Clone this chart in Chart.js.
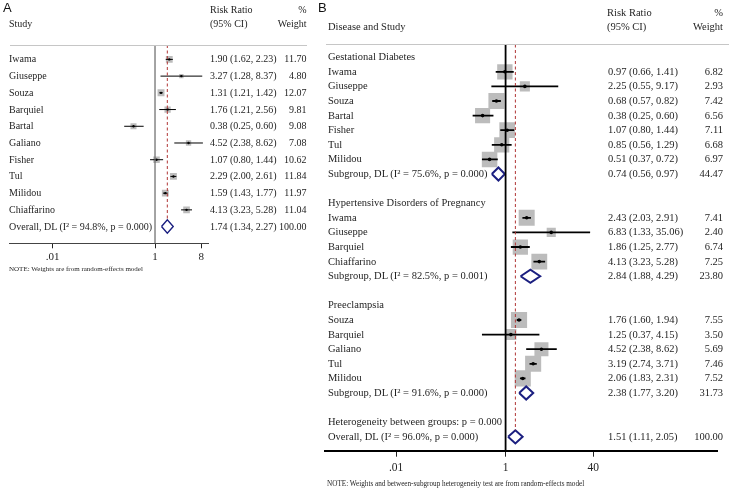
<!DOCTYPE html>
<html><head><meta charset="utf-8">
<script src="https://cdn.jsdelivr.net/npm/chart.js@4/dist/chart.umd.min.js"></script>
<style>
html,body{margin:0;padding:0;background:#fff;}
#wrap{position:relative;width:729px;height:490px;overflow:hidden;}
canvas{position:absolute;top:0;}
.t{position:absolute;white-space:nowrap;font-family:'Liberation Serif','Times New Roman','DejaVu Serif',serif;color:#1e1e1e;line-height:1;transform:translateY(-50%);}
.t.r{transform:translate(-100%,-50%);}
.hl{position:absolute;height:1px;background:#c6c6c6;}
.pl{position:absolute;font-family:'Liberation Sans',Arial,sans-serif;font-size:13px;line-height:1;color:#111;transform:translateY(-50%);}
</style></head><body><div id="wrap">
<canvas id="ca" width="310" height="490" style="left:0px"></canvas>
<canvas id="cb" width="419" height="490" style="left:310px"></canvas>
</div>
<script>
// ---------- Panel A data ----------
const aStudies = ['Iwama','Giuseppe','Souza','Barquiel','Bartal','Galiano','Fisher','Tul','Milidou','Chiaffarino'];
const aRR     = [1.90, 3.27, 1.31, 1.76, 0.38, 4.52, 1.07, 2.29, 1.59, 4.13];
const aLo     = [1.62, 1.28, 1.21, 1.21, 0.25, 2.38, 0.80, 2.00, 1.43, 3.23];
const aHi     = [2.23, 8.37, 1.42, 2.56, 0.60, 8.62, 1.44, 2.61, 1.77, 5.28];
const aWeight = [11.70, 4.80, 12.07, 9.81, 9.08, 7.08, 10.62, 11.84, 11.97, 11.04];
const aOverallLabel = 'Overall, DL (I² = 94.8%, p = 0.000)';
const aOverall = [1.74, 1.34, 2.27, 100.00]; // estimate, lower, upper, weight
const aTicks = [0.01, 1, 8];
const aTickLabels = ['.01', '1', '8'];

// ---------- Panel B data ----------
const bLabels = ['Gestational Diabetes','Iwama','Giuseppe','Souza','Bartal','Fisher','Tul','Milidou',
  'Subgroup, DL (I² = 75.6%, p = 0.000)','',
  'Hypertensive Disorders of Pregnancy','Iwama','Giuseppe','Barquiel','Chiaffarino',
  'Subgroup, DL (I² = 82.5%, p = 0.001)','',
  'Preeclampsia','Souza','Barquiel','Galiano','Tul','Milidou',
  'Subgroup, DL (I² = 91.6%, p = 0.000)','',
  'Heterogeneity between groups: p = 0.000','Overall, DL (I² = 96.0%, p = 0.000)'];
const bKind = ['h','s','s','s','s','s','s','s','g','b','h','s','s','s','s','g','b','h','s','s','s','s','s','g','b','t','o'];
const bRR     = [null,0.97,2.25,0.68,0.38,1.07,0.85,0.51,0.74,null,null,2.43,6.83,1.86,4.13,2.84,null,null,1.76,1.25,4.52,3.19,2.06,2.38,null,null,1.51];
const bLo     = [null,0.66,0.55,0.57,0.25,0.80,0.56,0.37,0.56,null,null,2.03,1.33,1.25,3.23,1.88,null,null,1.60,0.37,2.38,2.74,1.83,1.77,null,null,1.11];
const bHi     = [null,1.41,9.17,0.82,0.60,1.44,1.29,0.72,0.97,null,null,2.91,35.06,2.77,5.28,4.29,null,null,1.94,4.15,8.62,3.71,2.31,3.20,null,null,2.05];
const bWeight = [null,6.82,2.93,7.42,6.56,7.11,6.68,6.97,44.47,null,null,7.41,2.40,6.74,7.25,23.80,null,null,7.55,3.50,5.69,7.46,7.52,31.73,null,null,100.00];
const bTicks = [0.01, 1, 40];
const bTickLabels = ['.01', '1', '40'];

// ---------- helpers ----------
const wrap = document.getElementById('wrap');
function addText(txt, x, y, size, right, cls) {
  const d = document.createElement('div');
  d.className = (cls || 't') + (right ? ' r' : '');
  d.textContent = txt;
  d.style.left = x + 'px';
  d.style.top = y + 'px';
  if (size) d.style.fontSize = size + 'px';
  wrap.appendChild(d);
  return d;
}
function addLine(x1, x2, y) {
  const d = document.createElement('div');
  d.className = 'hl';
  d.style.left = x1 + 'px'; d.style.width = (x2 - x1) + 'px'; d.style.top = y + 'px';
  wrap.appendChild(d);
}
const fmt = v => v.toFixed(2);

function buildPanel(p) {
  const n = p.labels.length;
  const ds = [];
  const sq = [], dots = [], radii = [];
  let overallRow = -1;
  for (let i = 0; i < n; i++) {
    const k = p.kind[i];
    if (k === 's') {
      sq.push({x: p.rr[i], y: i});
      radii.push(p.boxK * Math.sqrt(p.w[i]) / Math.SQRT2);
      dots.push({x: p.rr[i], y: i});
      ds.push({data: [{x: p.lo[i], y: i}, {x: p.hi[i], y: i}], showLine: true, pointRadius: 0,
        borderColor: '#000', borderWidth: p.ciW, order: 5});
    } else if (k === 'g' || k === 'o') {
      const h = p.diaH;
      ds.push({data: [{x: p.lo[i], y: i}, {x: p.rr[i], y: i - h}, {x: p.hi[i], y: i}, {x: p.rr[i], y: i + h}, {x: p.lo[i], y: i}],
        showLine: true, pointRadius: 0, borderColor: '#1b1f80', borderWidth: p.diaW, borderJoinStyle: 'miter', fill: false, order: 3});
      if (k === 'o') overallRow = i;
    }
  }
  ds.push({data: sq, pointStyle: 'rect', pointRadius: radii, backgroundColor: '#bcbcbc', borderWidth: 0, order: 10});
  ds.push({data: dots, pointStyle: 'circle', pointRadius: p.dotR, backgroundColor: '#000', borderWidth: 0, order: 4});
  ds.push({data: [{x: 1, y: p.yMin}, {x: 1, y: p.yMax}], showLine: true, pointRadius: 0,
    borderColor: p.nullColor, borderWidth: p.nullW, order: 2});
  ds.push({data: [{x: p.rr[overallRow], y: p.yMin}, {x: p.rr[overallRow], y: overallRow - p.diaH}], showLine: true, pointRadius: 0,
    borderColor: '#b03535', borderWidth: 1, borderDash: [3, 2.5], order: 1});

  const chart = new Chart(document.getElementById(p.canvas), {
    type: 'scatter',
    data: {datasets: ds},
    options: {
      responsive: false, animation: false, events: [],
      layout: {padding: {left: p.padL, right: p.padR, top: p.top, bottom: 0}},
      plugins: {legend: {display: false}, tooltip: {enabled: false}},
      scales: {
        x: {
          type: 'logarithmic', min: p.xMin, max: p.xMax, position: 'bottom',
          afterBuildTicks: s => { s.ticks = p.ticks.map(v => ({value: v})); },
          afterFit: s => { s.height = 490 - p.bottom; },
          ticks: {autoSkip: false, maxRotation: 0, padding: p.tickPad, color: '#222',
            font: {family: "'Liberation Serif','Times New Roman',serif", size: p.tickFont},
            callback: (v, i) => p.tickLabels[i]},
          grid: {drawOnChartArea: false, drawTicks: true, tickLength: p.tickLen, color: '#222', lineWidth: 1},
          border: {display: true, color: p.axisColor, width: p.axisW}
        },
        y: {type: 'linear', reverse: true, min: p.yMin, max: p.yMax, display: false}
      }
    }
  });

  const ys = chart.scales.y;
  for (let i = 0; i < n; i++) {
    const y = ys.getPixelForValue(i);
    if (p.labels[i]) addText(p.labels[i], p.nameX, y, p.font);
    if (p.rr[i] != null) {
      addText(fmt(p.rr[i]) + ' (' + fmt(p.lo[i]) + ', ' + fmt(p.hi[i]) + ')', p.ciX, y, p.font);
      addText(fmt(p.w[i]), p.wX, y, p.font, true);
    }
  }
  return chart;
}

// ---------- Panel A ----------
buildPanel({
  canvas: 'ca',
  labels: aStudies.concat([aOverallLabel]),
  kind: aStudies.map(() => 's').concat(['o']),
  rr: aRR.concat([aOverall[0]]), lo: aLo.concat([aOverall[1]]), hi: aHi.concat([aOverall[2]]), w: aWeight.concat([aOverall[3]]),
  ticks: aTicks, tickLabels: aTickLabels,
  xMin: Math.pow(10, -2.852), xMax: Math.pow(10, 1.035),
  padL: 9, padR: 102, top: 45, bottom: 243.3,
  yMin: -0.861, yMax: 11.0,
  boxK: 2.0, ciW: 1, dotR: 1.2, diaH: 0.4, diaW: 1.4,
  nullColor: '#666', nullW: 1.2, axisColor: '#444', axisW: 1,
  tickLen: 5, tickPad: 2, tickFont: 11,
  nameX: 9, ciX: 210, wX: 306.5, font: 10
});
addText('A', 3, 7, null, false, 'pl');
addText('Study', 9, 24, 10);
addText('Risk Ratio', 210, 9.5, 10);
addText('(95% CI)', 210, 24, 10);
addText('%', 306.5, 9.5, 10, true);
addText('Weight', 306.5, 24, 10, true);
addLine(10, 307, 44.5);
addText('NOTE: Weights are from random-effects model', 9, 269, 7);

// ---------- Panel B ----------
buildPanel({
  canvas: 'cb',
  labels: bLabels, kind: bKind, rr: bRR, lo: bLo, hi: bHi, w: bWeight,
  ticks: bTicks, tickLabels: bTickLabels,
  xMin: Math.pow(10, -3.300), xMax: Math.pow(10, 3.874),
  padL: 15, padR: 4, top: 44.5, bottom: 450.7,
  yMin: -0.87, yMax: 26.95,
  boxK: 5.88, ciW: 1.8, dotR: 1.8, diaH: 0.45, diaW: 2,
  nullColor: '#000', nullW: 1.8, axisColor: '#000', axisW: 2,
  tickLen: 6, tickPad: 4, tickFont: 11.5,
  nameX: 328, ciX: 608, wX: 723, font: 10.5
});
addText('B', 318, 7, null, false, 'pl');
addText('Disease and Study', 328, 27.3, 10.5);
addText('Risk Ratio', 607, 13.3, 10.5);
addText('(95% CI)', 607, 27.3, 10.5);
addText('%', 723, 13.3, 10.5, true);
addText('Weight', 723, 27.3, 10.5, true);
addLine(326, 729, 44);
addText('NOTE: Weights and between-subgroup heterogeneity test are from random-effects model', 327, 485, 7.2);
</script>
</body></html>
